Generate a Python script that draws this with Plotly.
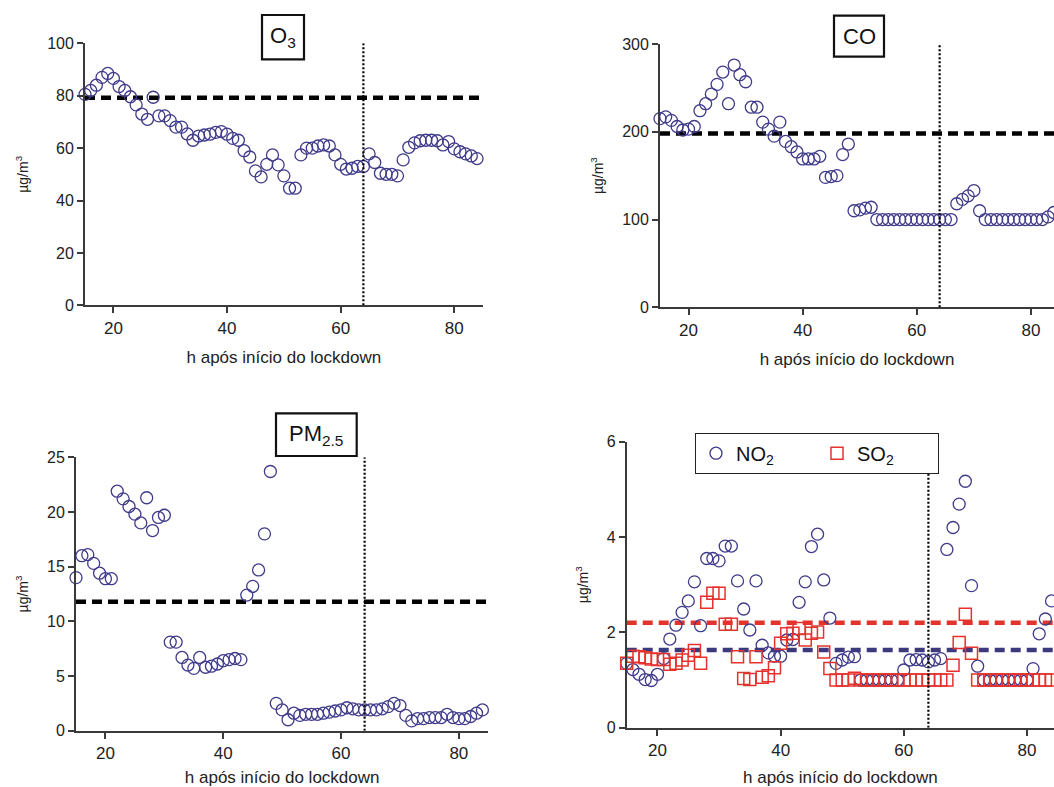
import plotly.graph_objects as go

W, H = 1054, 787

# ---------------- data ----------------
hours = list(range(15, 85))

o3 = [80.5, 82, 84, 87, 88.5, 86.6, 83.5, 82, 79.6, 76.5,
      73, 71, 79.4, 72.3, 72.3, 70.5, 68, 68, 65.4, 63,
      64.6, 65, 65.3, 66, 66.3, 65.3, 63.7, 63, 59, 56.6,
      51.3, 49, 53.8, 57.4, 53.6, 49.4, 44.7, 44.7, 57.4, 60,
      60, 60.8, 61.2, 60.8, 57.4, 53.8, 52, 52.3, 53, 53,
      57.8, 54.5, 50.4, 50, 50, 49.4, 55.5, 60.3, 62, 62.8,
      63, 63, 62.8, 61.2, 62.5, 59.7, 58.6, 57.8, 57, 56]

co = [215, 217, 213, 206, 202, 203, 206, 224, 232, 243,
      254, 268, 232, 276, 265, 257, 228, 228, 211, 203,
      195, 211, 189, 183, 177, 169, 169, 169, 172, 148,
      149, 150, 174, 186, 110, 111, 113, 114, 100, 100,
      100, 100, 100, 100, 100, 100, 100, 100, 100, 100,
      100, 100, 118, 123, 127, 133, 110, 100, 100, 100,
      100, 100, 100, 100, 100, 100, 100, 100, 103, 108]

pm25 = [14.0, 16.0, 16.1, 15.3, 14.4, 13.9, 13.9, 21.9, 21.2, 20.5,
        19.8, 19.0, 21.3, 18.3, 19.5, 19.7, 8.1, 8.1, 6.7, 6.0,
        5.7, 6.7, 5.8, 5.9, 6.1, 6.4, 6.5, 6.6, 6.5, 12.4,
        13.2, 14.7, 18.0, 23.7, 2.5, 1.9, 1.0, 1.6, 1.4, 1.5,
        1.5, 1.5, 1.6, 1.7, 1.8, 1.9, 2.1, 2.0, 1.9, 1.9,
        1.9, 1.9, 2.0, 2.2, 2.5, 2.3, 1.4, 0.9, 1.1, 1.1,
        1.2, 1.2, 1.2, 1.5, 1.2, 1.1, 1.1, 1.3, 1.6, 1.9]

no2 = [1.35, 1.22, 1.12, 1.01, 0.99, 1.12, 1.45, 1.86, 2.15, 2.42,
       2.66, 3.06, 2.14, 3.55, 3.55, 3.50, 3.81, 3.81, 3.08, 2.49,
       2.05, 3.08, 1.73, 1.57, 1.50, 1.50, 1.84, 1.85, 2.63, 3.06,
       3.80, 4.06, 3.10, 2.30, 1.35, 1.42, 1.48, 1.49, 1.0, 1.0,
       1.0, 1.0, 1.0, 1.0, 1.0, 1.21, 1.42, 1.43, 1.42, 1.38,
       1.42, 1.45, 3.74, 4.20, 4.69, 5.17, 2.98, 1.29, 1.0, 1.0,
       1.0, 1.0, 1.0, 1.0, 1.0, 1.0, 1.24, 1.97, 2.28, 2.66]

so2 = [1.35, 1.50, 1.49, 1.47, 1.44, 1.43, 1.43, 1.33, 1.35, 1.42,
       1.52, 1.62, 1.35, 2.63, 2.82, 2.82, 2.17, 2.17, 1.49, 1.03,
       1.01, 1.49, 1.06, 1.09, 1.26, 1.77, 1.97, 1.98, 2.08, 1.84,
       1.98, 2.01, 1.59, 1.24, 1.0, 1.0, 1.0, 1.04, 1.0, 1.0,
       1.0, 1.0, 1.0, 1.0, 1.0, 1.0, 1.0, 1.0, 1.0, 1.0,
       1.0, 1.0, 1.0, 1.31, 1.79, 2.38, 1.56, 1.0, 1.0, 1.0,
       1.0, 1.0, 1.0, 1.0, 1.0, 1.0, 1.0, 1.0, 1.0, 1.0]

O3_REF = 79.2
CO_REF = 198
PM25_REF = 11.8
NO2_REF = 1.63
SO2_REF = 2.2
LOCKDOWN_H = 64

x_ticks = [20, 40, 60, 80]
x_title = "h após início do lockdown"
y_title = "µg/m<sup>3</sup>"

# ---------------- styling ----------------
FONT = "Liberation Sans, Arial, sans-serif"
PURPLE = "#3f3a8a"
RED = "#e5322c"
AXC = "#3a3a3a"


def px(x):
    return x / W


def py(y):
    return 1 - y / H


panels = [
    # (axis suffix, x domain px, y domain px, xrange, yrange, dtick)
    ("", (85, 482.7), (43.3, 305.3), [15, 85], [0, 100], 20),
    ("2", (660, 1054), (44, 307.3), [15, 84.04], [0, 300], 100),
    ("3", (76, 488.3), (457.3, 730.7), [15, 85], [0, 25], 5),
    ("4", (626.7, 1054), (441.7, 727.7), [15, 84.4], [0, 6], 2),
]

fig = go.Figure()
layout = dict(
    width=W, height=H,
    margin=dict(l=0, r=0, t=0, b=0, pad=0, autoexpand=False),
    paper_bgcolor="white", plot_bgcolor="white",
    font=dict(family=FONT, color="#222"),
    showlegend=True,
)

for suf, xd, yd, xr, yr, dt in panels:
    layout["xaxis" + suf] = dict(
        domain=[px(xd[0]), px(xd[1])], range=xr, anchor="y" + suf,
        tickvals=x_ticks, ticks="outside", ticklen=6, tickwidth=1.5,
        tickcolor=AXC, showline=True, linecolor=AXC, linewidth=1.8,
        showgrid=False, zeroline=False, automargin=False,
        tickfont=dict(size=17, family=FONT, color="#222"),
        title=dict(text=x_title, font=dict(size=17, family=FONT, color="#222")),
    )
    layout["yaxis" + suf] = dict(
        domain=[py(yd[1]), py(yd[0])], range=yr, anchor="x" + suf,
        dtick=dt, tick0=0, ticks="outside", ticklen=6, tickwidth=1.5,
        tickcolor=AXC, showline=True, linecolor=AXC, linewidth=1.8,
        showgrid=False, zeroline=False, automargin=False,
        tickfont=dict(size=16, family=FONT, color="#222"),
        title=dict(text=y_title, font=dict(size=14, family=FONT, color="#222")),
    )


def ref_line(xa, ya, xr, val, color):
    fig.add_trace(go.Scatter(
        x=[xr[0], xr[1]], y=[val, val], mode="lines", xaxis=xa, yaxis=ya,
        line=dict(color=color, width=4.5, dash="10px,6px"),
        showlegend=False, hoverinfo="skip"))


def lock_line(xa, ya, top):
    fig.add_trace(go.Scatter(
        x=[LOCKDOWN_H, LOCKDOWN_H], y=[0, top], mode="lines", xaxis=xa, yaxis=ya,
        line=dict(color="black", width=2.2, dash="2px,2px"),
        showlegend=False, hoverinfo="skip"))


def circles(xa, ya, vals, name=None, legend=False):
    fig.add_trace(go.Scatter(
        x=hours, y=vals, mode="markers", xaxis=xa, yaxis=ya, name=name,
        marker=dict(symbol="circle-open", size=12, color=PURPLE, line=dict(width=1.3)),
        cliponaxis=False, showlegend=legend))


# Panel 1: O3
ref_line("x", "y", [15, 85], O3_REF, "black")
circles("x", "y", o3)
lock_line("x", "y", 100)

# Panel 2: CO
ref_line("x2", "y2", [15, 85], CO_REF, "black")
circles("x2", "y2", co)
lock_line("x2", "y2", 300)

# Panel 3: PM2.5
ref_line("x3", "y3", [15, 85], PM25_REF, "black")
circles("x3", "y3", pm25)
lock_line("x3", "y3", 25)

# Panel 4: NO2 / SO2
ref_line("x4", "y4", [15, 85], SO2_REF, RED)
ref_line("x4", "y4", [15, 85], NO2_REF, "#3c3a7c")
circles("x4", "y4", no2, name="NO<sub>2</sub>", legend=True)
fig.add_trace(go.Scatter(
    x=hours, y=so2, mode="markers", xaxis="x4", yaxis="y4", name="SO<sub>2</sub>",
    marker=dict(symbol="square-open", size=12, color=RED, line=dict(width=1.5)),
    cliponaxis=False, showlegend=True))
lock_line("x4", "y4", 6)

layout["legend"] = dict(
    x=px(695), y=py(432.7), xanchor="left", yanchor="top",
    orientation="h", bgcolor="white", bordercolor="#222", borderwidth=1,
    font=dict(size=20, family=FONT, color="#111"),
    entrywidth=76, entrywidthmode="pixels", traceorder="normal",
)

# Title boxes
boxes = [
    ((262, 304), (15, 59.3), "O<sub>3</sub>"),
    ((834, 884), (15.7, 56.7), "CO"),
    ((276, 356.7), (413.3, 456), "PM<sub>2.5</sub>"),
]
shapes = []
annotations = []
for (x0, x1), (y0, y1), txt in boxes:
    shapes.append(dict(type="rect", xref="paper", yref="paper",
                       x0=px(x0), x1=px(x1), y0=py(y1), y1=py(y0),
                       line=dict(color="#111", width=2.2), fillcolor="white", layer="above"))
    annotations.append(dict(xref="paper", yref="paper", x=px((x0 + x1) / 2), y=py((y0 + y1) / 2),
                            text=txt, showarrow=False, xanchor="center", yanchor="middle",
                            font=dict(size=22, family=FONT, color="#111")))
layout["shapes"] = shapes
layout["annotations"] = annotations

fig.update_layout(**layout)
fig.write_html("out.html")
